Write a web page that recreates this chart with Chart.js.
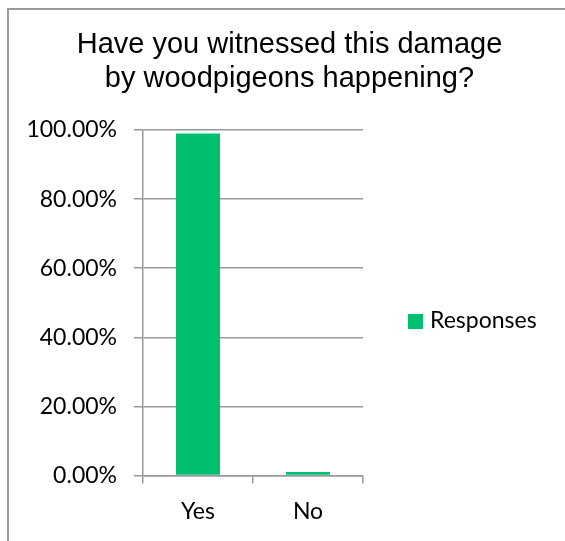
<!DOCTYPE html>
<html>
<head>
<meta charset="utf-8">
<script src="https://cdn.jsdelivr.net/npm/chart.js@4/dist/chart.umd.min.js"></script>
<style>
  html, body { margin: 0; padding: 0; background: #fff; overflow: hidden; }
  #wrap { position: relative; width: 565px; height: 541px; overflow: hidden; background: #fff; }
  #frame { position: absolute; left: 7px; top: 8px; width: 700px; height: 700px;
           border-left: 2px solid #9a9a9a; border-top: 2px solid #9a9a9a; box-sizing: border-box; }
  #title { position: absolute; left: 7px; top: 26px; width: 565px; text-align: center;
           font-family: "Liberation Sans", Arial, sans-serif; font-size: 29px; line-height: 34px; color: #000; }
  #legend { position: absolute; left: 408px; top: 305px; font-family: Lato, sans-serif; font-size: 23px;
            color: #000; white-space: nowrap; }
  #legend .sw { display: inline-block; width: 15px; height: 15px; margin-right: 7px; vertical-align: -1px; }
  canvas { position: absolute; left: 0; top: 0; }
</style>
</head>
<body>
<div id="wrap">
  <canvas id="c" width="565" height="541"></canvas>
  <div id="frame"></div>
  <div id="title"></div>
  <div id="legend"></div>
</div>
<script>
const titleLines = ["Have you witnessed this damage", "by woodpigeons happening?"];
const categories = ["Yes", "No"];
const seriesName = "Responses";
const responses = [99.0, 1.0];
const yTicks = [0, 20, 40, 60, 80, 100];
const barColor = "#00BF6F";

document.getElementById("title").innerHTML = titleLines.join("<br>");
document.getElementById("legend").innerHTML =
  '<span class="sw" style="background:' + barColor + '"></span>' + seriesName;

const gridColor = "#999999";
new Chart(document.getElementById("c"), {
  type: "bar",
  data: {
    labels: categories,
    datasets: [{
      label: seriesName,
      data: responses,
      backgroundColor: barColor,
      borderWidth: 0,
      categoryPercentage: 1.0,
      barPercentage: 0.4
    }]
  },
  options: {
    responsive: false,
    animation: false,
    devicePixelRatio: 1,
    layout: { padding: { left: 0, right: 202, top: 130, bottom: 0 } },
    plugins: { legend: { display: false }, title: { display: false }, tooltip: { enabled: false } },
    scales: {
      y: {
        min: 0, max: 100,
        afterBuildTicks: (s) => { s.ticks = yTicks.map(v => ({ value: v })); },
        afterFit: (s) => { s.width = 143; },
        ticks: {
          callback: (v) => Number(v).toFixed(2) + "%",
          font: { family: "Lato", size: 23 },
          color: "#000",
          padding: 17
        },
        grid: { color: gridColor, lineWidth: 1.5, tickLength: 9, drawTicks: true },
        border: { color: gridColor, width: 1.5 }
      },
      x: {
        afterFit: (s) => { s.height = 65.5; },
        ticks: { font: { family: "Lato", size: 23 }, color: "#000", padding: 14 },
        grid: { offset: true, drawOnChartArea: false, drawTicks: true, tickLength: 8, color: gridColor, lineWidth: 1.5 },
        border: { color: gridColor, width: 1.5 }
      }
    }
  }
});
</script>
</body>
</html>
